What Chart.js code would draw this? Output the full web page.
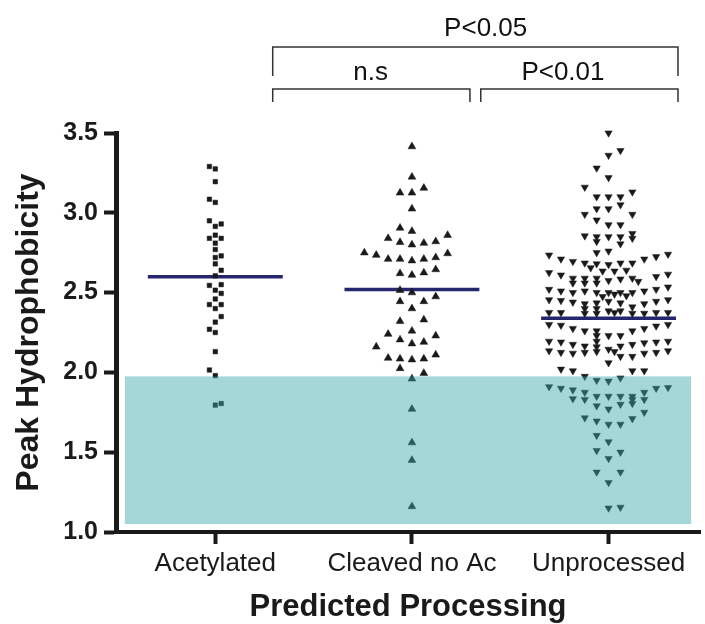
<!DOCTYPE html>
<html>
<head>
<meta charset="utf-8">
<script src="https://cdn.jsdelivr.net/npm/chart.js@4"></script>
<style>
  html, body { margin: 0; padding: 0; background: #fff; }
</style>
</head>
<body>
<canvas id="chart" width="705" height="624"></canvas>
<script>
// Peak hydrophobicity by predicted processing (dot plot + mean)
const categories = ['Acetylated', 'Cleaved no Ac', 'Unprocessed'];
const yTicks = [1.0, 1.5, 2.0, 2.5, 3.0, 3.5];
const means = [2.60, 2.52, 2.34];
const bandRange = [1.05, 1.975];          // shaded cut-off zone (y)
const bandSpan = [0.54, 3.42];            // shaded zone (x, category units)

// each point: value + column slot in the swarm
const acetylatedValues = [3.29, 3.275, 3.195, 3.085, 3.065, 2.95, 2.93, 2.915, 2.86, 2.84,
  2.84, 2.81, 2.77, 2.73, 2.72, 2.68, 2.64, 2.605, 2.55, 2.545,
  2.515, 2.495, 2.46, 2.425, 2.425, 2.40, 2.35, 2.315, 2.27, 2.25,
  2.13, 2.015, 1.98, 1.805, 1.795];
const acetylatedSlots = [-1, 0, 0, -1, 0, -1, 1, 0, 0, -1,
  1, 0, 0, 1, 0, 0, 1, 0, 1, -1,
  0, 1, 0, -1, 1, 0, 1, 0, -1, 0,
  0, -1, 0, 1, 0];

const cleavedValues = [3.415, 3.225, 3.155, 3.125, 3.125, 3.025, 2.905, 2.885, 2.86, 2.84,
  2.82, 2.815, 2.81, 2.80, 2.75, 2.745, 2.735, 2.72, 2.71, 2.71,
  2.71, 2.70, 2.645, 2.625, 2.62, 2.61, 2.515, 2.50, 2.475, 2.445,
  2.445, 2.40, 2.33, 2.32, 2.26, 2.24, 2.23, 2.205, 2.19, 2.18,
  2.16, 2.11, 2.09, 2.085, 2.085, 2.08, 2.025, 1.995, 1.96, 1.77,
  1.56, 1.45, 1.16];
const cleavedSlots = [0, 0, 1, -1, 0, 0, -1, 0, 3, -2,
  2, -1, 1, 0, -4, 3, -3, 2, -2, -1,
  1, 0, 2, 1, -1, 0, -1, 0, 2, -1,
  1, 0, 1, -1, 0, -2, 2, -1, 1, 0,
  -3, 2, -2, -1, 1, 0, -1, 1, 0, 0,
  0, 0, 0];

const unprocessedValues = [
  3.50,
  3.39, 3.36,
  3.28, 3.22, 3.16, 3.13,
  3.10, 3.10, 3.10, 3.05, 3.025, 3.025,
  2.99, 2.99, 2.955, 2.925, 2.925,
  2.87, 2.855, 2.85, 2.85, 2.85, 2.84, 2.82, 2.805,
  2.76, 2.75, 2.735, 2.71, 2.695, 2.71, 2.725, 2.74,
  2.685, 2.655, 2.68, 2.635, 2.675, 2.635, 2.685, 2.64, 2.685,
  2.625, 2.61, 2.59, 2.59, 2.59, 2.575, 2.585, 2.59, 2.57, 2.60, 2.615,
  2.56, 2.56, 2.56,
  2.52, 2.51, 2.50, 2.51, 2.50, 2.475, 2.50, 2.49, 2.50, 2.48, 2.50, 2.51, 2.52, 2.535,
  2.455, 2.45, 2.44, 2.43, 2.435, 2.445, 2.435, 2.41, 2.43, 2.445, 2.455,
  2.375, 2.375, 2.40, 2.37, 2.40, 2.37, 2.385, 2.375, 2.385, 2.37, 2.37, 2.375, 2.375,
  2.30, 2.295, 2.275, 2.26, 2.26, 2.23, 2.23, 2.23, 2.26, 2.275, 2.29, 2.30,
  2.195, 2.19, 2.175, 2.165, 2.195, 2.16, 2.145, 2.165, 2.175, 2.185, 2.19, 2.195,
  2.135, 2.125, 2.12, 2.125, 2.13, 2.13, 2.10, 2.10, 2.12, 2.125, 2.135,
  2.06, 2.02, 2.01, 1.975, 2.01, 2.01, 1.95, 1.945, 1.965,
  1.91, 1.90, 1.89, 1.875, 1.85, 1.85, 1.85, 1.85, 1.875, 1.90, 1.905,
  1.835, 1.83, 1.79, 1.77, 1.80, 1.83, 1.805, 1.83, 1.75,
  1.715, 1.695, 1.675, 1.675, 1.71,
  1.605, 1.565, 1.51, 1.50, 1.46, 1.375, 1.375, 1.31, 1.15, 1.155
];
const unprocessedSlots = [
  0,
  1, 0,
  -1, 0, -2, 2,
  -1, 0, 1, 1, -1, 0,
  -2, 2, -1, 0, 1,
  2, -2, -1, 0, 1, 2, -1, 1,
  0, -1, -5, -4, -3, 3, 4, 5,
  -2, -1.5, -1, -0.5, 0, 0.5, 1, 1.5, 2,
  -5, -4, -3, -2, -1, 0, 1, 2, 2.5, 4, 5,
  -3, -2, -1,
  -5, -4, -3, -2, -1, -0.5, 0, 0.5, 1, 1.5, 2, 3, 4, 5,
  -5, -4, -3, -2, -1, 0, 1, 2, 3, 4, 5,
  -5, -4, -2, -2, -1, -1, 0, 0.5, 1, 2, 3, 4, 5,
  -5, -4, -3, -2, -1, -1, 0, 1, 2, 3, 4, 5,
  -5, -4, -3, -2, -1, -1, 0, 1, 2, 3, 4, 5,
  -5, -4, -3, -2, -1, 0.5, 1, 2, 3, 4, 5,
  0, -4, -3, -2, 2, 3, -1, 0, 1,
  -5, -4, -3, -2, -1, 0, 1, 2, 3, 4, 5,
  -3, -2, -1, 0, 1, 2, 2, 3, 3,
  -2, -1, 0, 1, 2,
  -1, 0, -1, 1, 0, -1, 1, 0, 0, 1
];

const FONT = "Arial, 'Liberation Sans', Helvetica, sans-serif";
const INK = '#1a1a1a';

function swarm(values, slots, cat, slotWidth) {
  return values.map((v, i) => ({ x: cat + slots[i] * slotWidth, y: v }));
}

function meanLine(cat, m) {
  return [{ x: cat - 0.343, y: m }, { x: cat + 0.343, y: m }];
}

const pointStyle = { backgroundColor: INK, borderColor: INK, pointBorderWidth: 0.5, clip: false };

const overlay = {
  id: 'overlay',
  afterDatasetsDraw(chart) {
    const { ctx, scales: { x, y } } = chart;
    const l = x.getPixelForValue(bandSpan[0]), r = x.getPixelForValue(bandSpan[1]);
    const t = y.getPixelForValue(bandRange[1]), b = y.getPixelForValue(bandRange[0]);
    ctx.save();
    ctx.fillStyle = 'rgba(56,167,167,0.46)';
    ctx.fillRect(l, t, r - l, b - t);
    ctx.restore();
  },
  afterDraw(chart) {
    const { ctx, scales: { x } } = chart;
    ctx.save();
    ctx.strokeStyle = '#333';
    ctx.lineWidth = 1.5;
    const bracket = (a, b, top, bottom) => {
      const xa = x.getPixelForValue(a), xb = x.getPixelForValue(b);
      ctx.beginPath();
      ctx.moveTo(xa, bottom);
      ctx.lineTo(xa, top);
      ctx.lineTo(xb, top);
      ctx.lineTo(xb, bottom);
      ctx.stroke();
    };
    bracket(1.292, 3.353, 47, 76);
    bracket(1.292, 2.295, 89, 102);
    bracket(2.35, 3.353, 89, 102);

    ctx.fillStyle = '#111';
    ctx.font = '26px ' + FONT;
    ctx.textAlign = 'center';
    ctx.textBaseline = 'alphabetic';
    ctx.fillText('P<0.05', x.getPixelForValue(2.375), 36);
    ctx.fillText('n.s', x.getPixelForValue(1.79), 80);
    ctx.fillText('P<0.01', x.getPixelForValue(2.768), 80);
    ctx.restore();
  }
};

new Chart(document.getElementById('chart'), {
  type: 'scatter',
  data: {
    datasets: [
      { label: categories[0], data: swarm(acetylatedValues, acetylatedSlots, 1, 0.030),
        pointStyle: 'rect', pointRadius: 3.2, ...pointStyle },
      { label: categories[1], data: swarm(cleavedValues, cleavedSlots, 2, 0.0605),
        pointStyle: 'triangle', pointRadius: 4.5, ...pointStyle },
      { label: categories[2], data: swarm(unprocessedValues, unprocessedSlots, 3, 0.0605),
        pointStyle: 'triangle', pointRotation: 180, pointRadius: 4.2, ...pointStyle },
      ...means.map((m, i) => ({
        type: 'line', label: 'mean ' + categories[i], data: meanLine(i + 1, m),
        borderColor: '#25266e', borderWidth: 3.5, pointRadius: 0, fill: false
      }))
    ]
  },
  options: {
    responsive: false,
    animation: false,
    devicePixelRatio: 1,
    layout: { padding: { top: 133, left: 0, right: 0, bottom: 0 } },
    plugins: { legend: { display: false }, tooltip: { enabled: false } },
    scales: {
      x: {
        type: 'linear', min: 0.495, max: 3.465,
        afterBuildTicks: s => { s.ticks = categories.map((c, i) => ({ value: i + 1 })); },
        afterFit: s => { s.height = 92; },
        border: { display: true, width: 4, color: INK },
        grid: { drawOnChartArea: false, drawTicks: true, tickLength: 12, tickWidth: 4, tickColor: INK },
        ticks: { callback: v => categories[Math.round(v) - 1], color: '#1a1a1a', padding: 4,
                 font: { family: FONT, size: 26 }, maxRotation: 0, autoSkip: false },
        title: { display: true, text: 'Predicted Processing', color: '#1a1a1a',
                 font: { family: FONT, size: 31, weight: 'bold', lineHeight: 1.0 },
                 padding: { top: 0, bottom: 1 } }
      },
      y: {
        min: 1.0, max: 3.5,
        afterBuildTicks: s => { s.ticks = yTicks.map(v => ({ value: v })); },
        afterFit: s => { s.width = 116; },
        border: { display: true, width: 5, color: INK },
        grid: { drawOnChartArea: false, drawTicks: true, tickLength: 12, tickWidth: 4, tickColor: INK },
        ticks: { callback: v => v.toFixed(1), color: '#1a1a1a', padding: 6,
                 font: { family: FONT, size: 25, weight: 'bold' } },
        title: { display: true, text: 'Peak Hydrophobicity', color: '#1a1a1a',
                 font: { family: FONT, size: 32, weight: 'bold', lineHeight: 1.0 },
                 padding: { top: 13, bottom: 0 } }
      }
    }
  },
  plugins: [overlay]
});
</script>
</body>
</html>
